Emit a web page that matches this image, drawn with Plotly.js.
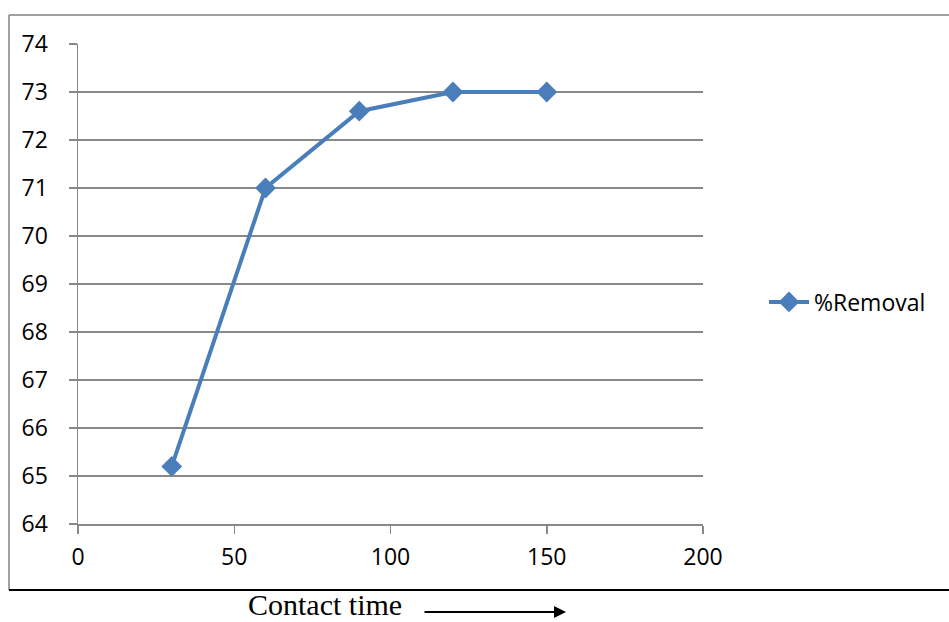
<!DOCTYPE html>
<html>
<head>
<meta charset="utf-8">
<script src="https://cdn.plot.ly/plotly-3.0.1.min.js"></script>
<style>
  html, body { margin: 0; padding: 0; background: #ffffff; }
  #chart { width: 949px; height: 622px; }
</style>
</head>
<body>
<div id="chart"></div>
<script>
// Contact time (min) vs percentage removal
const contactTime = [30, 60, 90, 120, 150];
const removal = [65.2, 71, 72.6, 73, 73];
const seriesName = '%Removal';
const xTicks = [0, 50, 100, 150, 200];
const yTicks = [64, 65, 66, 67, 68, 69, 70, 71, 72, 73, 74];

const W = 949, H = 622;
const L = 78, R = 703, T = 44, B = 524;
const px = x => (x - L) / (R - L);
const py = y => (B - y) / (B - T);

const blue = '#4a7ebb';
const grid = '#888888';
const tickFont = { family: '"Open Sans", Lato, sans-serif', size: 23, color: '#000000' };

const trace = {
  x: contactTime,
  y: removal,
  name: seriesName,
  type: 'scatter',
  mode: 'lines+markers',
  line: { color: blue, width: 4 },
  marker: { symbol: 'diamond', size: 16, color: blue, line: { width: 0 } }
};

const layout = {
  width: W,
  height: H,
  margin: { l: L, r: W - R, t: T, b: H - B, pad: 0 },
  paper_bgcolor: '#ffffff',
  plot_bgcolor: '#ffffff',
  showlegend: true,
  legend: {
    x: px(764), y: py(302), xanchor: 'left', yanchor: 'middle',
    font: tickFont, bgcolor: 'rgba(0,0,0,0)', itemwidth: 40
  },
  xaxis: {
    range: [0, 200],
    tickvals: xTicks,
    ticktext: xTicks.map(String),
    showgrid: false,
    zeroline: false,
    showline: true, linecolor: grid, linewidth: 1.5,
    ticks: 'outside', ticklen: 8, tickcolor: grid, tickwidth: 1.5,
    tickfont: tickFont,
    ticklabelstandoff: 4,
    fixedrange: true
  },
  yaxis: {
    range: [64, 74],
    tickvals: yTicks,
    ticktext: yTicks.map(String),
    showgrid: true, gridcolor: grid, gridwidth: 1.5,
    zeroline: false,
    showline: true, linecolor: grid, linewidth: 1.5,
    ticks: 'outside', ticklen: 8, tickcolor: grid, tickwidth: 1.5,
    tickfont: tickFont,
    ticklabelstandoff: 16,
    fixedrange: true
  },
  shapes: [
    // chart frame
    { type: 'line', xref: 'paper', yref: 'paper', x0: px(9), x1: px(9), y0: py(15), y1: py(590),
      line: { color: '#808080', width: 1.5 } },
    { type: 'line', xref: 'paper', yref: 'paper', x0: px(9), x1: px(952), y0: py(15), y1: py(15),
      line: { color: '#808080', width: 1.5 } },
    { type: 'line', xref: 'paper', yref: 'paper', x0: px(9), x1: px(952), y0: py(590), y1: py(590),
      line: { color: '#000000', width: 2 } }
  ],
  annotations: [
    { xref: 'paper', yref: 'paper', x: px(325), y: py(604), text: 'Contact time',
      showarrow: false, xanchor: 'center', yanchor: 'middle',
      font: { family: '"Liberation Serif", "Times New Roman", serif', size: 30, color: '#000000' } },
    { xref: 'paper', yref: 'paper', x: px(566), y: py(612), ax: px(423), ay: py(612),
      axref: 'paper', ayref: 'paper', text: '', showarrow: true,
      arrowhead: 2, arrowsize: 1.2, arrowwidth: 2, arrowcolor: '#000000' }
  ]
};

Plotly.newPlot('chart', [trace], layout, { displayModeBar: false, staticPlot: true });
</script>
</body>
</html>
